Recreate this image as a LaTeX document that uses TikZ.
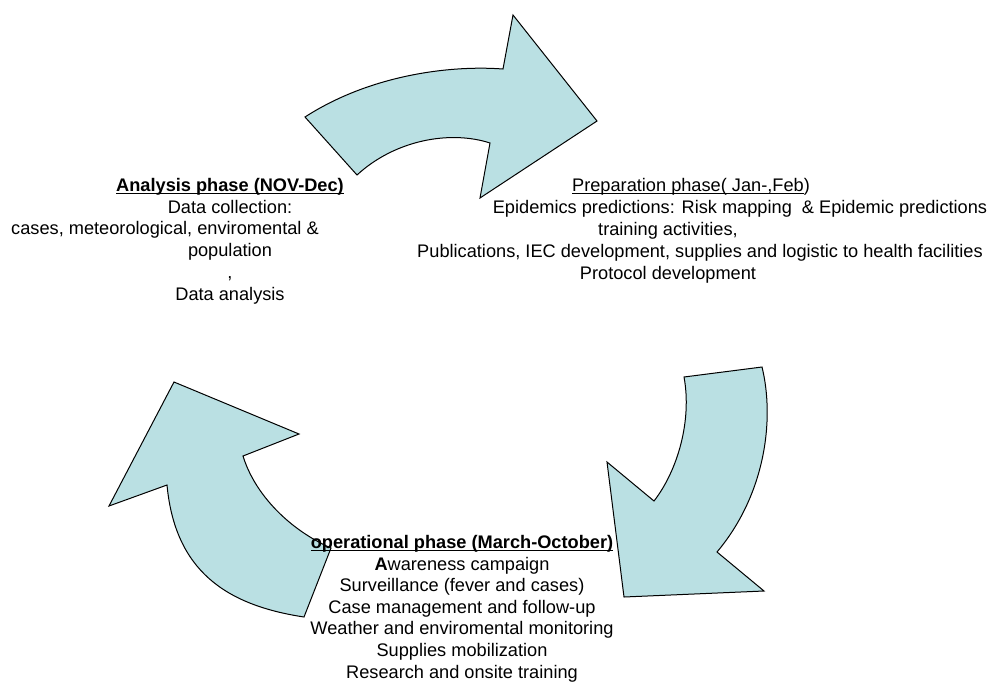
\documentclass[tikz,border=0pt]{standalone}
\usepackage{fontspec}
\setmainfont{Liberation Sans}
\newsavebox\ulbox
\newcommand\phaseul[1]{\sbox\ulbox{#1}\rlap{\rule[-3pt]{\wd\ulbox}{1.3pt}}\usebox\ulbox}
\definecolor{arrowfill}{RGB}{186,224,227}
\tikzset{
  phasearrow/.style={draw=black, line width=1pt, fill=arrowfill},
  phasetext/.style={align=center, inner sep=0pt, anchor=north,
    font=\fontsize{18.2}{21.8}\selectfont},
}
\begin{document}
\begin{tikzpicture}[x=1pt,y=-1pt]
  \useasboundingbox (0,0) rectangle (995,683);
  \path
    % top arrow
    (305,117) coordinate (TA) (503,69) coordinate (TB) (513,15) coordinate (TC)
    (597,121) coordinate (TD) (480,198) coordinate (TE) (490,143) coordinate (TF)
    (357,175) coordinate (TG)
    % right arrow
    (762,367) coordinate (RA) (717,552) coordinate (RB) (764,591) coordinate (RC)
    (624,597) coordinate (RD) (607,462) coordinate (RE) (654,501) coordinate (RF)
    (684,377) coordinate (RG)
    % left arrow
    (304,617) coordinate (LA) (167,485) coordinate (LB) (109,506) coordinate (LC)
    (174,382) coordinate (LD) (299,434) coordinate (LE) (243,456) coordinate (LF)
    (331,548) coordinate (LG)
  ;
  % Draw arrows
  \draw[phasearrow] (TA) .. controls (370,75) and (450,65) .. (TB) -- (TC) -- (TD)
    -- (TE) -- (TF) .. controls (450,130) and (395,140) .. (TG) -- cycle;
  \draw[phasearrow] (RA) .. controls (775,420) and (765,495) .. (RB) -- (RC) -- (RD)
    -- (RE) -- (RF) .. controls (678,470) and (692,420) .. (RG) -- cycle;
  \draw[phasearrow] (LA) .. controls (225,605) and (175,570) .. (LB) -- (LC) -- (LD)
    -- (LE) -- (LF) .. controls (255,495) and (290,530) .. (LG) -- cycle;
  % Phases
  \node[phasetext] (analysis) at (230,178) {\phaseul{\textbf{Analysis phase (NOV-Dec)}}\\
    Data collection:\\
    cases, meteorological, enviromental \&\hspace*{130pt}\mbox{}\\
    population\\ ,\\ Data analysis};
  \node[phasetext, font=\fontsize{18.2}{22}\selectfont] (preparation) at (668,178)
    {\hspace*{46pt}\phaseul{Preparation phase( Jan-,Feb})\\
    \hspace*{144pt}Epidemics predictions: Risk mapping\ \ \& Epidemic predictions\\
    training activities,\\
    \hspace*{64pt}Publications, IEC development, supplies and logistic to health facilities\\
    Protocol development};
  \node[phasetext, font=\fontsize{18.2}{21.6}\selectfont] (operational) at (462,535)
    {\phaseul{\textbf{operational phase (March-October)}}\\
    \textbf{A}wareness campaign\\ Surveillance (fever and cases)\\
    Case management and follow-up\\ Weather and enviromental monitoring\\
    Supplies mobilization\\ Research and onsite training};
\end{tikzpicture}
\end{document}
